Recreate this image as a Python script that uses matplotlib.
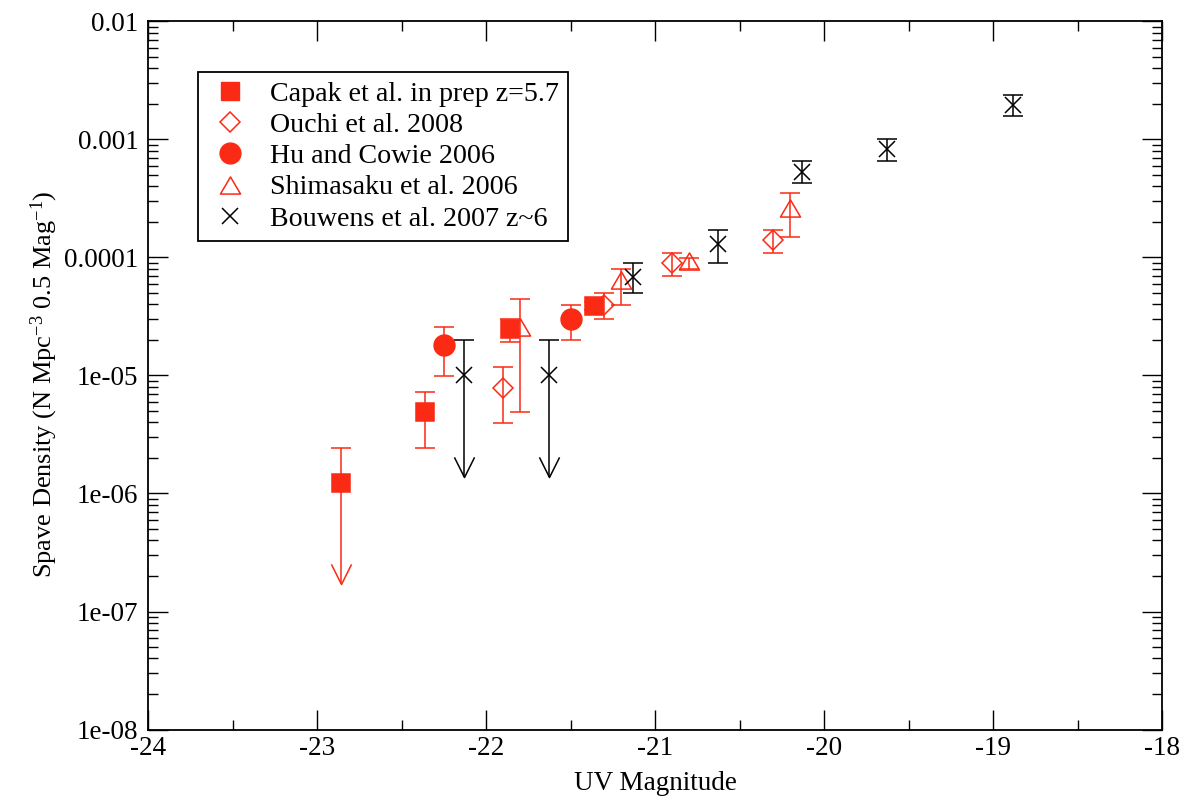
import numpy as np
import matplotlib
matplotlib.use("Agg")
import matplotlib.pyplot as plt
from matplotlib.lines import Line2D
from matplotlib.path import Path
from matplotlib.ticker import MultipleLocator, LogLocator, NullFormatter

plt.rcParams["font.family"] = ["Liberation Serif", "DejaVu Serif"]
plt.rcParams["mathtext.fontset"] = "custom"
plt.rcParams["mathtext.rm"] = "Liberation Serif"
plt.rcParams["mathtext.it"] = "Liberation Serif:italic"
plt.rcParams["axes.unicode_minus"] = False

RED = "#fa2a14"

# Capak et al. (measured points)
capak_x = [-22.36, -21.86, -21.36]
capak_y = [4.9e-6, 2.48e-5, 3.9e-5]
capak_lo = [2.43e-6, 1.93e-5, 3.6e-5]
capak_hi = [7.3e-6, 2.98e-5, 4.2e-5]
# Capak et al. (upper limit)
capak_lim_x = [-22.86]
capak_lim_y = [1.22e-6]
capak_lim_hi = [2.43e-6]
capak_lim_tip = [1.7e-7]

# Ouchi et al. 2008
ouchi_x = [-21.9, -21.3, -20.9, -20.3]
ouchi_y = [7.9e-6, 3.94e-5, 8.89e-5, 1.40e-4]
ouchi_lo = [3.94e-6, 3.0e-5, 6.98e-5, 1.09e-4]
ouchi_hi = [1.18e-5, 4.95e-5, 1.09e-4, 1.70e-4]

# Hu and Cowie 2006
hu_x = [-22.25, -21.5]
hu_y = [1.80e-5, 2.98e-5]
hu_lo = [9.9e-6, 1.98e-5]
hu_hi = [2.58e-5, 3.96e-5]

# Shimasaku et al. 2006
shim_x = [-21.8, -21.2, -20.8, -20.2]
shim_y = [2.58e-5, 6.43e-5, 9.4e-5, 2.6e-4]
shim_lo = [4.92e-6, 3.96e-5, 7.96e-5, 1.50e-4]
shim_hi = [4.45e-5, 7.96e-5, 9.93e-5, 3.53e-4]

# Bouwens et al. 2007
bouw_x = [-21.13, -20.63, -20.13, -19.63, -18.88]
bouw_y = [6.77e-5, 1.29e-4, 5.31e-4, 8.22e-4, 1.95e-3]
bouw_lo = [4.98e-5, 9.0e-5, 4.24e-4, 6.52e-4, 1.57e-3]
bouw_hi = [9.0e-5, 1.70e-4, 6.59e-4, 1.01e-3, 2.39e-3]
# Bouwens et al. 2007 (upper limits)
bouw_lim_x = [-22.13, -21.63]
bouw_lim_y = [1e-5, 1e-5]
bouw_lim_hi = [2e-5, 2e-5]
bouw_lim_tip = [1.37e-6, 1.37e-6]

labels = ["Capak et al. in prep z=5.7", "Ouchi et al. 2008", "Hu and Cowie 2006",
          "Shimasaku et al. 2006", "Bouwens et al. 2007 z~6"]
ytick_vals = [1e-8, 1e-7, 1e-6, 1e-5, 1e-4, 1e-3, 1e-2]
ytick_labels = ["1e-08", "1e-07", "1e-06", "1e-05", "0.0001", "0.001", "0.01"]

tri = Path([(-1, -0.85), (1, -0.85), (0, 0.85), (-1, -0.85)],
           [Path.MOVETO, Path.LINETO, Path.LINETO, Path.CLOSEPOLY])
vhead = Path([(-0.5, 1), (0, 0), (0.5, 1)], [Path.MOVETO, Path.LINETO, Path.LINETO])

fig = plt.figure(figsize=(11.92, 7.96), dpi=100)
ax = fig.add_axes([0.1242, 0.0835, 0.8507, 0.8897])

ekw = dict(linestyle="none", capsize=7.2, elinewidth=1.1, capthick=1.1, markeredgewidth=1.1)


def errs(y, lo, hi):
    y = np.array(y)
    return [y - np.array(lo), np.array(hi) - y]


def limits(x, y, hi, tip, color, marker, ms, mfc):
    ax.vlines(x, tip, hi, color=color, lw=1.1, zorder=2)
    ax.plot(x, hi, linestyle="none", marker="_", ms=14.4, mew=1.1, color=color, zorder=2)
    ax.plot(x, tip, linestyle="none", marker=vhead, ms=29, mew=1.1, color=color,
            mfc="none", zorder=2)
    ax.plot(x, y, linestyle="none", marker=marker, ms=ms, mew=1.1, color=color,
            mfc=mfc, zorder=3)


ax.errorbar(capak_x, capak_y, yerr=errs(capak_y, capak_lo, capak_hi), marker="s", ms=13,
            color=RED, zorder=3, **ekw)
limits(capak_lim_x, capak_lim_y, capak_lim_hi, capak_lim_tip, RED, "s", 13, RED)
ax.errorbar(ouchi_x, ouchi_y, yerr=errs(ouchi_y, ouchi_lo, ouchi_hi), marker="D", ms=10.5,
            color=RED, mfc="none", zorder=3, **ekw)
ax.errorbar(hu_x, hu_y, yerr=errs(hu_y, hu_lo, hu_hi), marker="o", ms=15,
            color=RED, zorder=3, **ekw)
ax.errorbar(shim_x, shim_y, yerr=errs(shim_y, shim_lo, shim_hi), marker=tri, ms=14.5,
            color=RED, mfc="none", zorder=3, **ekw)
ax.errorbar(bouw_x, bouw_y, yerr=errs(bouw_y, bouw_lo, bouw_hi), marker="x", ms=11.5,
            color="black", zorder=3, **ekw)
limits(bouw_lim_x, bouw_lim_y, bouw_lim_hi, bouw_lim_tip, "black", "x", 11.5, "black")

ax.set_yscale("log")
ax.set_xlim(-24, -18)
ax.set_ylim(1e-8, 1e-2)
ax.xaxis.set_major_locator(MultipleLocator(1))
ax.xaxis.set_minor_locator(MultipleLocator(0.5))
ax.set_yticks(ytick_vals, ytick_labels)
ax.yaxis.set_minor_locator(LogLocator(base=10, subs=np.arange(2, 10), numticks=20))
ax.yaxis.set_minor_formatter(NullFormatter())
ax.tick_params(which="both", direction="in", top=True, right=True, width=1.0, labelsize=19.5)
ax.tick_params(which="major", length=14.4)
ax.tick_params(which="minor", length=7.2)
ax.tick_params(axis="x", pad=5)
ax.tick_params(axis="y", pad=7)
for s in ax.spines.values():
    s.set_linewidth(1.3)

ax.set_xlabel("UV Magnitude", fontsize=19.5)
ax.set_ylabel("Spave Density (N Mpc$^{\\mathrm{-3}}$ 0.5 Mag$^{\\mathrm{-1}}$)", fontsize=19)
ax.xaxis.set_label_coords(0.5, -0.059)
ax.yaxis.set_label_coords(-0.087, 0.487)

handles = [
    Line2D([], [], ls="none", marker="s", ms=13, color=RED),
    Line2D([], [], ls="none", marker="D", ms=10.5, mew=1.1, color=RED, mfc="none"),
    Line2D([], [], ls="none", marker="o", ms=15, color=RED),
    Line2D([], [], ls="none", marker=tri, ms=14.5, mew=1.1, color=RED, mfc="none"),
    Line2D([], [], ls="none", marker="x", ms=11.5, mew=1.1, color="black"),
]
leg = ax.legend(handles, labels, loc="upper left", bbox_to_anchor=(0.0496, 0.9288),
                borderaxespad=0, fontsize=20.2, frameon=True, fancybox=False,
                edgecolor="black", framealpha=1, handlelength=1.6, handletextpad=0.62,
                borderpad=0.33, labelspacing=0.2)
leg.get_frame().set_linewidth(1.3)

fig.savefig("out.png", dpi=100)
